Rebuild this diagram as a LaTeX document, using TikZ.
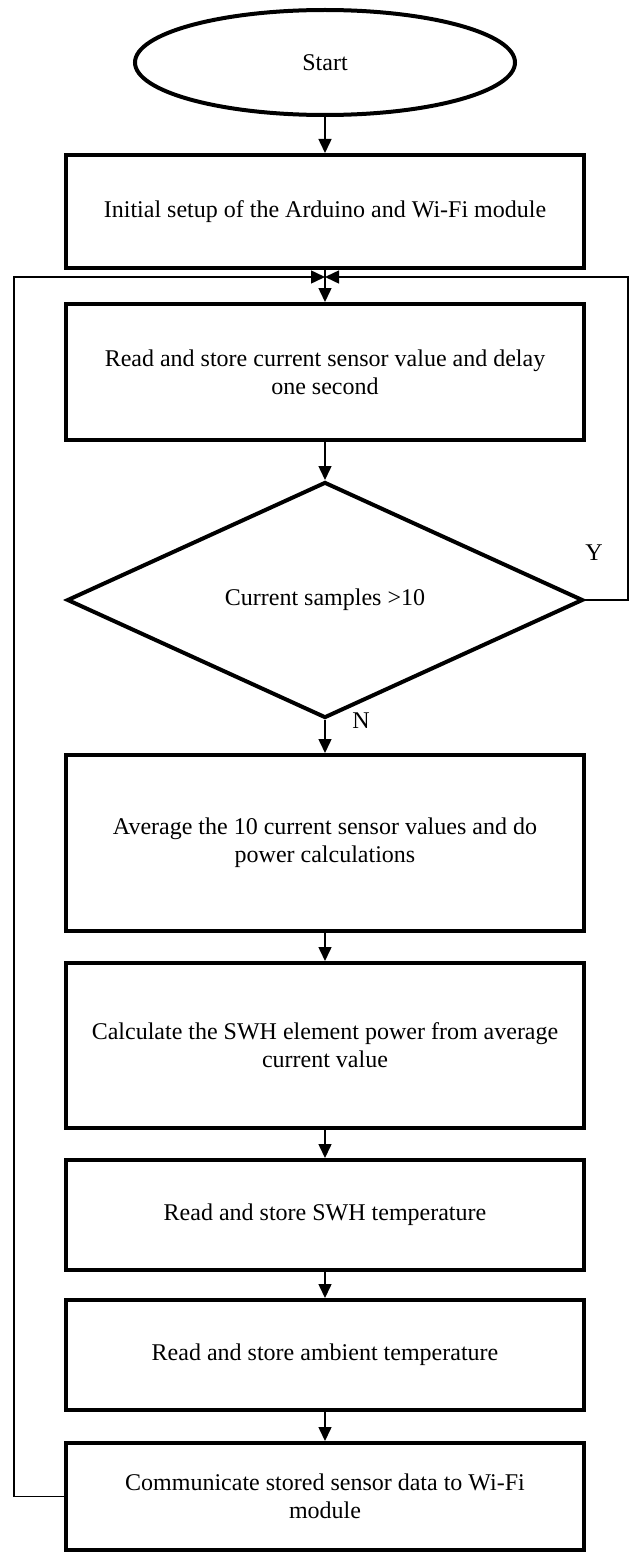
\documentclass[tikz,border=0pt]{standalone}
\usepackage{fontspec}
\setmainfont{Liberation Serif}
\usetikzlibrary{shapes.geometric,arrows.meta}

\begin{document}
\begin{tikzpicture}[x=0.5pt,y=0.5pt]
\tikzstyle{every node}+=[inner sep=0pt, font=\fontsize{12}{14}\selectfont]
\tikzstyle{block}=[draw, line width=2pt, align=center, minimum width=259pt]
\tikzstyle{flow}=[line width=0.75pt, -{Triangle[length=7pt,width=6.5pt]}]
\tikzstyle{plain}=[line width=0.75pt]
\useasboundingbox (0,0) rectangle (633,-1552);
\node [draw, ellipse, line width=2pt, minimum width=190pt, minimum height=52.5pt] (start) at (325,-62.5) {Start};
\node [block, minimum height=56.5pt] (init) at (325,-211.5) {Initial setup of the Arduino and Wi-Fi module};
\node [block, minimum height=68pt] (read) at (325,-372) {Read and store current sensor value and delay\\one second};
\node [draw, diamond, line width=2pt, aspect=2.19, minimum width=258pt, minimum height=118pt] (dec) at (325,-600) {Current samples >10};
\node [block, minimum height=88pt] (avg) at (325,-843) {Average the 10 current sensor values and do\\power calculations};
\node [block, minimum height=82.5pt] (calc) at (325,-1045.5) {Calculate the SWH element power from average\\current value};
\node [block, minimum height=55pt] (swh) at (325,-1215) {Read and store SWH temperature};
\node [block, minimum height=55pt] (amb) at (325,-1355) {Read and store ambient temperature};
\node [block, minimum height=53.5pt] (comm) at (325,-1496.5) {Communicate stored sensor data to Wi-Fi\\module};
\node (yes) at (594,-553) {Y};
\node (no) at (361,-721) {N};
\coordinate (merge) at (325,-277);
% main flow
\draw [flow] (start) -- (init);
\draw [plain] (init) -- (merge);
\draw [flow] (merge) -- (read);
\draw [flow] (read) -- (dec);
\draw [flow] (dec) -- (avg);
\draw [flow] (avg) -- (calc);
\draw [flow] (calc) -- (swh);
\draw [flow] (swh) -- (amb);
\draw [flow] (amb) -- (comm);
% loops back
\draw [flow] (dec.east) -- ++(43,0) |- (merge);
\draw [flow] (comm.west) -- ++(-50,0) |- (merge);
\end{tikzpicture}
\end{document}
